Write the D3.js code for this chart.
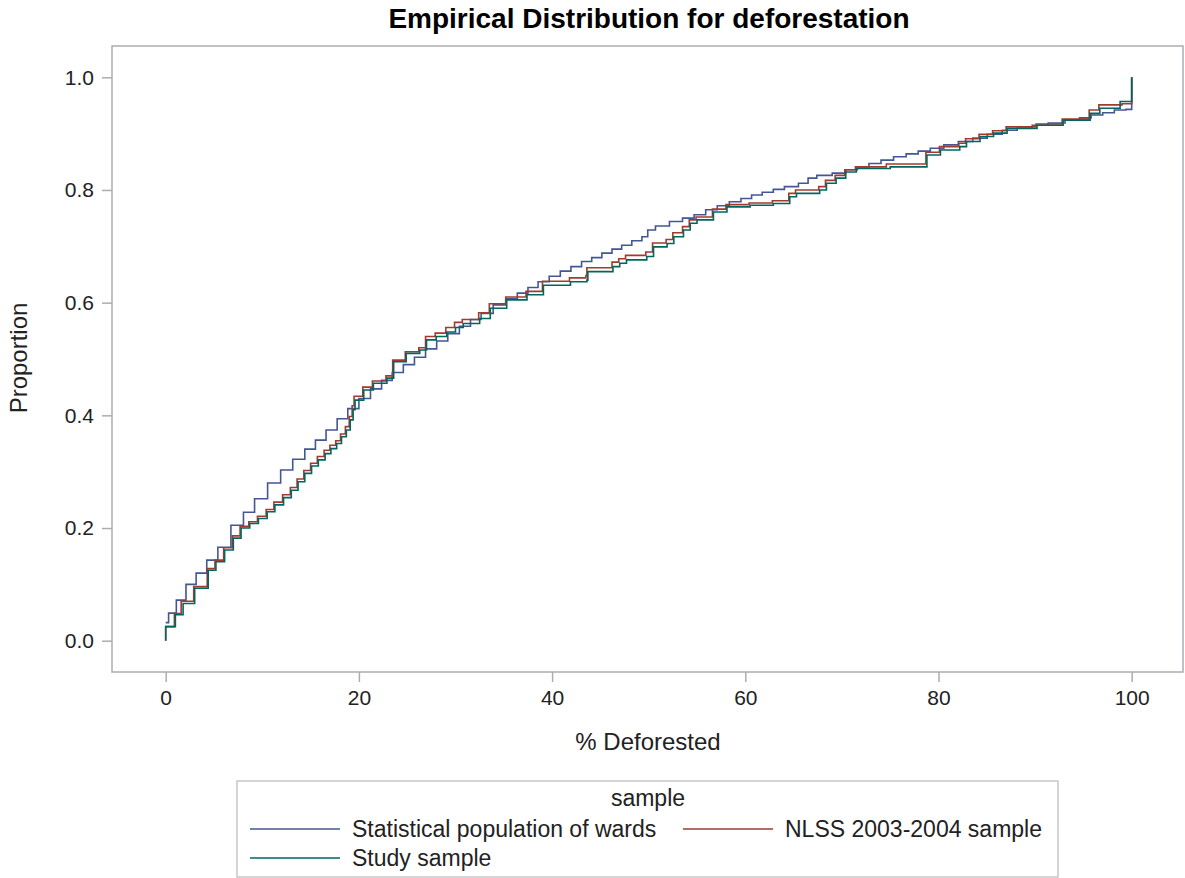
<!DOCTYPE html>
<html>
<head>
<meta charset="utf-8">
<script src="https://cdn.jsdelivr.net/npm/d3@7"></script>
<style>
  body { margin: 0; background: #fff; }
  text { font-family: "Liberation Sans", Arial, sans-serif; fill: #222; }
</style>
</head>
<body>
<div id="chart"></div>
<script>
// Data: step points [x, proportion]
const popPts = [
  [0, 0.032], [0.6, 0.049], [1.6, 0.072], [2.6, 0.1], [3.7, 0.12], [4.8, 0.143], [6.0, 0.166],
  [7.5, 0.205], [8.6, 0.228], [9.8, 0.252], [11.3, 0.28], [12.5, 0.303], [13.8, 0.322],
  [15.0, 0.34], [16.0, 0.356], [17.2, 0.374], [18.3, 0.394], [19.4, 0.412], [20.6, 0.43],
  [21.8, 0.447], [22.9, 0.462], [24.0, 0.476], [25.2, 0.49], [26.3, 0.503], [27.5, 0.518],
  [28.6, 0.532], [29.8, 0.545], [31.0, 0.558], [32.1, 0.57], [33.2, 0.581], [34.6, 0.596],
  [35.8, 0.607], [37.0, 0.617], [38.0, 0.627], [39.1, 0.637], [40.3, 0.647], [41.4, 0.656],
  [42.5, 0.664], [43.6, 0.673], [44.6, 0.68], [45.7, 0.688], [46.7, 0.695], [47.7, 0.702],
  [48.8, 0.71], [49.8, 0.717], [50.0, 0.729], [51.4, 0.736], [52.9, 0.744], [54.1, 0.75],
  [55.3, 0.756], [56.5, 0.765], [57.7, 0.772], [59.0, 0.779], [60.1, 0.785], [61.2, 0.791],
  [62.3, 0.796], [63.5, 0.801], [64.6, 0.806], [66.4, 0.812], [66.6, 0.821], [68.2, 0.826],
  [69.8, 0.83], [71.0, 0.836], [72.2, 0.841], [73.4, 0.847], [74.7, 0.853], [76.0, 0.859],
  [77.3, 0.864], [78.5, 0.869], [79.8, 0.874], [81.3, 0.88], [82.8, 0.886], [84.3, 0.892],
  [85.8, 0.899], [87.4, 0.906], [88.9, 0.91], [90.5, 0.915], [92.2, 0.919], [94.0, 0.924],
  [95.2, 0.928], [96.4, 0.933], [97.6, 0.937], [98.8, 0.942], [100, 0.943], [100, 1.0],
];

const nlssPts = [
  [0, 0], [0, 0.025], [0.9, 0.048], [1.6, 0.07], [2.9, 0.096], [4.3, 0.128], [5.1, 0.143],
  [6.0, 0.165], [6.9, 0.186], [7.7, 0.203], [8.6, 0.211], [9.5, 0.221], [10.4, 0.233],
  [11.2, 0.246], [12.1, 0.259], [12.9, 0.272], [13.6, 0.287], [14.3, 0.302], [15.0, 0.315],
  [15.7, 0.327], [16.4, 0.338], [17.0, 0.347], [17.6, 0.355], [18.1, 0.367], [18.6, 0.38],
  [19.0, 0.398], [19.3, 0.417], [19.5, 0.434], [20.4, 0.45], [21.4, 0.461], [22.8, 0.47],
  [23.5, 0.498], [24.8, 0.513], [26.2, 0.52], [26.9, 0.54], [27.9, 0.546], [29.0, 0.556],
  [29.9, 0.565], [30.7, 0.57], [32.4, 0.582], [33.5, 0.598], [35.2, 0.61], [37.3, 0.62],
  [39.0, 0.638], [41.8, 0.644], [43.5, 0.648], [43.6, 0.662], [46.2, 0.672], [46.9, 0.678],
  [47.6, 0.684], [49.7, 0.69], [50.4, 0.706], [51.8, 0.712], [52.5, 0.724], [53.5, 0.735],
  [54.2, 0.747], [54.9, 0.752], [56.6, 0.766], [58.0, 0.774], [60.4, 0.777], [62.8, 0.781],
  [64.5, 0.794], [65.2, 0.8], [67.6, 0.806], [68.3, 0.817], [69.3, 0.826], [70.3, 0.836],
  [71.4, 0.841], [74.6, 0.846], [78.7, 0.867], [80.1, 0.877], [82.1, 0.883], [82.8, 0.891],
  [84.2, 0.899], [85.6, 0.905], [87.0, 0.912], [90.1, 0.917], [92.8, 0.926], [95.6, 0.942],
  [96.6, 0.951], [99.0, 0.953], [100, 0.957], [100, 1.0],
];

const studyPts = [
  [0, 0], [0, 0.025], [1.0, 0.046], [1.8, 0.066], [3.0, 0.093], [4.4, 0.125], [5.2, 0.14],
  [6.1, 0.161], [7.0, 0.182], [7.8, 0.2], [8.7, 0.208], [9.6, 0.217], [10.5, 0.229],
  [11.3, 0.241], [12.2, 0.254], [13.0, 0.267], [13.7, 0.282], [14.4, 0.297], [15.1, 0.31],
  [15.8, 0.321], [16.5, 0.332], [17.1, 0.341], [17.7, 0.35], [18.2, 0.362], [18.7, 0.374],
  [19.1, 0.392], [19.4, 0.41], [19.6, 0.427], [20.5, 0.445], [21.5, 0.457], [22.9, 0.466],
  [23.6, 0.495], [24.9, 0.51], [26.3, 0.516], [27.0, 0.534], [28.0, 0.54], [29.1, 0.548],
  [30.0, 0.556], [30.8, 0.563], [32.5, 0.572], [33.6, 0.59], [35.3, 0.605], [37.4, 0.614],
  [39.1, 0.631], [41.9, 0.637], [43.6, 0.64], [43.7, 0.655], [46.3, 0.664], [47.0, 0.67],
  [47.7, 0.676], [49.8, 0.682], [50.5, 0.699], [51.9, 0.705], [52.6, 0.717], [53.6, 0.729],
  [54.3, 0.741], [55.0, 0.747], [56.7, 0.761], [58.1, 0.77], [60.5, 0.773], [62.9, 0.776],
  [64.6, 0.788], [65.3, 0.794], [67.7, 0.8], [68.4, 0.812], [69.4, 0.821], [70.4, 0.832],
  [71.5, 0.838], [75.0, 0.841], [78.8, 0.862], [80.2, 0.871], [82.2, 0.877], [82.9, 0.886],
  [84.3, 0.895], [85.7, 0.901], [87.1, 0.909], [90.2, 0.915], [92.9, 0.924], [95.7, 0.936],
  [96.7, 0.945], [98.8, 0.957], [100, 0.957], [100, 1.0],
];

const seriesNames = ['Statistical population of wards', 'NLSS 2003-2004 sample', 'Study sample'];
const seriesColors = ['#445694', '#A23A2E', '#01665E'];
const xTicks = [0, 20, 40, 60, 80, 100];
const yTicks = [0, 0.2, 0.4, 0.6, 0.8, 1.0];

const width = 1185;
const height = 878;
const frame = { l: 112, t: 46, r: 1183, b: 672 };

const svg = d3.select('#chart')
  .append('svg')
  .attr('width', width)
  .attr('height', height);

// scales: 0 and 100 sit inside the frame with SAS-style padding
const xScale = d3.scaleLinear([0, 100], [165.7, 1131.7]);
const yScale = d3.scaleLinear([0, 1], [640.7, 77.3]);

// title
svg.append('text')
  .attr('x', 649)
  .attr('y', 28)
  .attr('text-anchor', 'middle')
  .style('font-size', '28px')
  .style('font-weight', 'bold')
  .style('fill', '#000')
  .text('Empirical Distribution for deforestation');

// axes
const xAxis = d3.axisBottom(xScale).tickValues(xTicks).tickSize(10).tickSizeOuter(0).tickPadding(8);
const yAxis = d3.axisLeft(yScale).tickValues(yTicks).tickSize(10).tickSizeOuter(0)
  .tickPadding(8).tickFormat(d3.format('.1f'));

const gx = svg.append('g')
  .attr('transform', `translate(0, ${frame.b})`)
  .call(xAxis);
const gy = svg.append('g')
  .attr('transform', `translate(${frame.l}, 0)`)
  .call(yAxis);

[gx, gy].forEach((g) => {
  g.select('.domain').remove();
  g.selectAll('line').attr('stroke', '#a9aeb3').attr('stroke-width', 1.5);
  g.selectAll('text')
    .style('font-size', '21px')
    .style('font-family', '"Liberation Sans", Arial, sans-serif')
    .attr('fill', '#222');
});

// frame
svg.append('rect')
  .attr('x', frame.l)
  .attr('y', frame.t)
  .attr('width', frame.r - frame.l)
  .attr('height', frame.b - frame.t)
  .attr('fill', 'none')
  .attr('stroke', '#a9aeb3')
  .attr('stroke-width', 1.5);

// axis names
svg.append('text')
  .attr('x', 648)
  .attr('y', 750)
  .attr('text-anchor', 'middle')
  .style('font-size', '24px')
  .text('% Deforested');

svg.append('text')
  .attr('text-anchor', 'middle')
  .attr('transform', `translate(27, 358) rotate(-90)`)
  .style('font-size', '24px')
  .text('Proportion');

// step lines (population drawn centred on its fine steps)
const stepLine = d3.line()
  .x((d) => xScale(d[0]))
  .y((d) => yScale(d[1]))
  .curve(d3.curveStepAfter);
const popLine = d3.line()
  .x((d) => xScale(d[0]))
  .y((d) => yScale(d[1]))
  .curve(d3.curveStep);

const allSeries = [popPts, nlssPts, studyPts];
svg.append('g')
  .selectAll('path')
  .data(allSeries)
  .join('path')
  .attr('d', (d, i) => (i === 0 ? popLine(d) : stepLine(d)))
  .attr('fill', 'none')
  .attr('stroke', (d, i) => seriesColors[i])
  .attr('stroke-width', 1.6);

// legend
const legend = svg.append('g');
legend.append('rect')
  .attr('x', 237)
  .attr('y', 781)
  .attr('width', 821)
  .attr('height', 96)
  .attr('fill', '#fff')
  .attr('stroke', '#c6c6c6')
  .attr('stroke-width', 1.5);

legend.append('text')
  .attr('x', 648)
  .attr('y', 806)
  .attr('text-anchor', 'middle')
  .style('font-size', '23px')
  .text('sample');

const legendPos = [
  { x: 250, y: 829 },
  { x: 683, y: 829 },
  { x: 250, y: 858 },
];

const items = legend.selectAll('g.item')
  .data(seriesNames)
  .join('g')
  .attr('class', 'item')
  .attr('transform', (d, i) => `translate(${legendPos[i].x}, ${legendPos[i].y})`);

items.append('line')
  .attr('x1', 0)
  .attr('x2', 90)
  .attr('stroke', (d, i) => seriesColors[i])
  .attr('stroke-width', 1.6);

items.append('text')
  .attr('x', 102)
  .attr('dy', '0.36em')
  .style('font-size', '23px')
  .text((d) => d);
</script>
</body>
</html>
